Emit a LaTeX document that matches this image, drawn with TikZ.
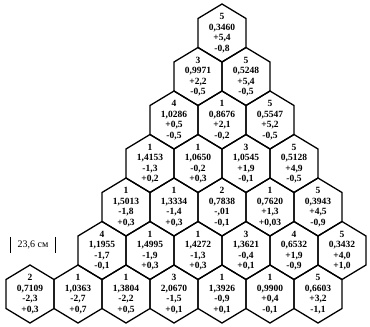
\documentclass[tikz,border=0pt]{standalone}
\usepackage{fontspec}
\setmainfont{Liberation Serif}[BoldFont={* Bold}]
\usepackage{tikz}

% one honeycomb cell: name, centre, text
\newcommand{\hexcell}[3]{%
  \node[cell] (#1) at (#2) {#3};
  \draw[hexline] (#1.center) ++(0,-29) -- ++(24,14.5) -- ++(0,29)
    -- ++(-24,14.5) -- ++(-24,-14.5) -- ++(0,-29) -- cycle;
}

\begin{document}
\begin{tikzpicture}[x=1pt, y=-1pt,
  cell/.style={font=\fontsize{9.5}{10.5}\selectfont\bfseries, align=center,
               inner sep=0pt},
  hexline/.style={draw=black, line width=1.3pt, line join=miter},
  dim/.style={font=\fontsize{10}{12}\selectfont, inner xsep=7pt,
              inner ysep=0pt, minimum height=16pt},
  bar/.style={draw=black, line width=1.3pt}
]
\useasboundingbox (0,0) rectangle (370,327);
% rows 1-4
\hexcell{r1c1}{222,33}{5\\0,3460\\+5,4\\-0,8}
\hexcell{r2c1}{198,76.5}{3\\0,9971\\+2,2\\-0,5}
\hexcell{r2c2}{246,76.5}{5\\0,5248\\+5,4\\-0,5}
\hexcell{r3c1}{174,120}{4\\1,0286\\+0,5\\-0,5}
\hexcell{r3c2}{222,120}{1\\0,8676\\+2,1\\-0,2}
\hexcell{r3c3}{270,120}{5\\0,5547\\+5,2\\-0,5}
\hexcell{r4c1}{150,163.5}{1\\1,4153\\-1,3\\+0,2}
\hexcell{r4c2}{198,163.5}{1\\1,0650\\-0,2\\+0,3}
\hexcell{r4c3}{246,163.5}{3\\1,0545\\+1,9\\-0,1}
\hexcell{r4c4}{294,163.5}{5\\0,5128\\+4,9\\-0,5}
% rows 5-6
\hexcell{r5c1}{126,207}{1\\1,5013\\-1,8\\+0,3}
\hexcell{r5c2}{174,207}{1\\1,3334\\-1,4\\+0,3}
\hexcell{r5c3}{222,207}{2\\0,7838\\-,01\\-0,1}
\hexcell{r5c4}{270,207}{1\\0,7620\\+1,3\\+0,03}
\hexcell{r5c5}{318,207}{5\\0,3943\\+4,5\\-0,9}
\hexcell{r6c1}{102,250.5}{4\\1,1955\\-1,7\\-0,1}
\hexcell{r6c2}{150,250.5}{1\\1,4995\\-1,9\\+0,3}
\hexcell{r6c3}{198,250.5}{1\\1,4272\\-1,3\\+0,3}
\hexcell{r6c4}{246,250.5}{3\\1,3621\\-0,4\\+0,1}
\hexcell{r6c5}{294,250.5}{4\\0,6532\\+1,9\\-0,9}
\hexcell{r6c6}{342,250.5}{5\\0,3432\\+4,0\\+1,0}
% bottom row
\hexcell{r7c1}{30,294}{2\\0,7109\\-2,3\\+0,3}
\hexcell{r7c2}{78,294}{1\\1,0363\\-2,7\\+0,7}
\hexcell{r7c3}{126,294}{1\\1,3804\\-2,2\\+0,5}
\hexcell{r7c4}{174,294}{3\\2,0670\\-1,5\\+0,1}
\hexcell{r7c5}{222,294}{1\\1,3926\\-0,9\\+0,1}
\hexcell{r7c6}{270,294}{1\\0,9900\\+0,4\\-0,1}
\hexcell{r7c7}{318,294}{5\\0,6603\\+3,2\\-1,1}
% width mark
\node[dim] (width) at (33,245) {23,6 см};
\draw[bar] (width.north west) -- (width.south west);
\draw[bar] (width.north east) -- (width.south east);
\end{tikzpicture}
\end{document}
